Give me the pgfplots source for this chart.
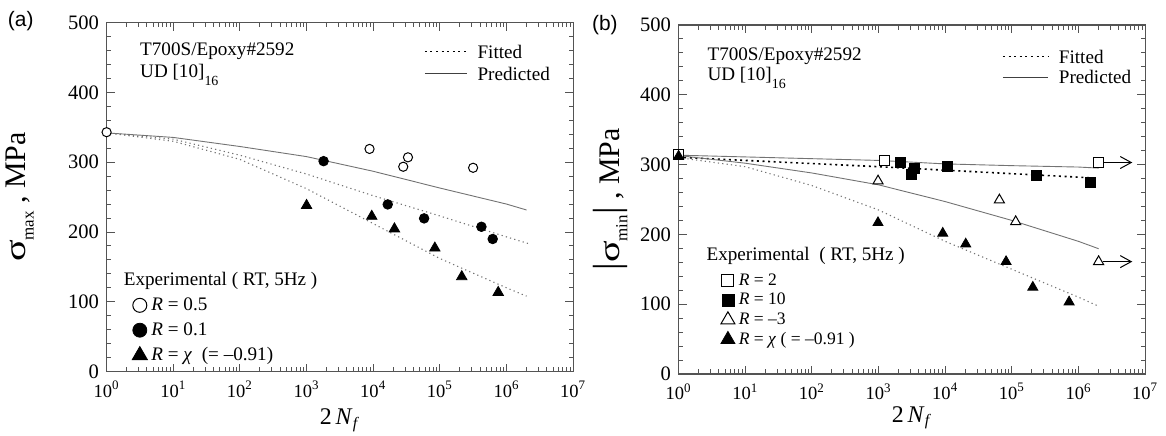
\documentclass[border=0pt]{standalone}
\usepackage{pgfplots}
\pgfplotsset{compat=1.18}
\usepackage{pgfplotstable}
\usepackage{fontspec}
\setmainfont{Liberation Serif}
\newfontfamily\panelfont{Liberation Sans}
\usetikzlibrary{arrows.meta}

% ---------- (a) maximum stress ----------
\pgfplotstableread{
x y
1 343
8800 319
28200 293.5
33200 307
315000 292
}\aRhalf
\pgfplotstableread{
x y
1800 301.5
16500 239.5
58000 219.5
420000 207.5
620000 190
}\aRtenth
\pgfplotstableread{
x y
1000 238
9500 222.5
20800 204.5
84000 177
213000 136
750000 113.5
}\aRchi
\pgfplotstableread{
x y
1 342
10 335.5
100 322.5
1000 308
10000 287
100000 263
1000000 240
2000000 231.5
}\aPred
\pgfplotstableread{
x y
1 342
10 333
100 310
1000 283
10000 252
100000 223
1000000 193
2200000 183
}\aFitTenth
\pgfplotstableread{
x y
1 342
10 330
100 304
1000 262
10000 212
100000 162
1000000 120
2000000 108
}\aFitChi

% ---------- (b) minimum stress ----------
\pgfplotstableread{
x y
1 314.5
1220 306
2000000 303
}\bRtwo
\pgfplotstableread{
x y
2120 303
3140 286
3440 295
10900 297
231000 285
1530000 275
}\bRten
\pgfplotstableread{
x y
982 276.5
64900 249.3
114000 218.2
2000000 161
}\bRmthree
\pgfplotstableread{
x y
1 312
980 216.8
9180 201.6
20300 186.2
81800 161
206000 124.2
722000 103.2
}\bRchi
\pgfplotstableread{
x y
1 313.5
10 311
100 308.5
1000 306
10000 301
100000 298.5
1000000 296.5
2000000 295
}\bPredTwo
\pgfplotstableread{
x y
1 310.5
10 306
100 301.5
1000 297
10000 292
100000 287
1000000 282
1500000 281
}\bFitTen
\pgfplotstableread{
x y
1 313
10 302
100 288
1000 271
10000 247
100000 220
1000000 190
2000000 179.5
}\bPredMthree
\pgfplotstableread{
x y
1 310
10 297
100 270
1000 235
10000 190
100000 150
1000000 110
1900000 98
}\bFitChi

\definecolor{framegray}{gray}{0.33}
\definecolor{curvegray}{gray}{0.45}

\tikzset{
  predline/.style={draw=curvegray, line width=0.45bp},
  fitline/.style={draw=curvegray, line width=0.55bp, dash pattern=on 0.6bp off 1.6bp},
  fitblackline/.style={draw=black, line width=0.8bp, dash pattern=on 1bp off 1.8bp},
}

\pgfplotsset{
  every axis/.append style={
    scale only axis, width=233.3bp, height=174.5bp,
    xmin=1, xmax=1e7, ymin=0, ymax=500,
    xtick={1,10,100,1000,10000,100000,1000000,10000000},
    minor xtick={2,3,4,5,6,7,8,9,
      20,30,40,50,60,70,80,90,
      200,300,400,500,600,700,800,900,
      2000,3000,4000,5000,6000,7000,8000,9000,
      20000,30000,40000,50000,60000,70000,80000,90000,
      200000,300000,400000,500000,600000,700000,800000,900000,
      2000000,3000000,4000000,5000000,6000000,7000000,8000000,9000000},
    xticklabels={10\textsuperscript{0},10\textsuperscript{1},10\textsuperscript{2},10\textsuperscript{3},10\textsuperscript{4},10\textsuperscript{5},10\textsuperscript{6},10\textsuperscript{7}},
    ytick={0,100,...,500}, minor y tick num=4,
    tick align=inside, major tick length=4bp, minor tick length=2.3bp,
    axis line style={draw=framegray, line width=0.6bp},
    tick style={draw=framegray, line width=0.5bp},
    /pgf/number format/assume math mode=true,
    xticklabel style={font=\fontsize{9.3}{10}\selectfont, yshift=-1.2bp},
    yticklabel style={font=\fontsize{10.3}{11}\selectfont, xshift=-0.3bp},
    clip=false,
    legend cell align=left,
    legend style={draw=none, fill=none, inner sep=0pt, row sep=0.6bp},
  },
}

\newcommand{\ttext}{\fontsize{9.6}{11}\selectfont}

\begin{document}
\begin{tikzpicture}
\path[use as bounding box] (0,0) rectangle (583bp,218bp);

% ================= panel (a) =================
\begin{semilogxaxis}[at={(53.3bp,32.2bp)}, anchor=south west,
  xlabel={\fontsize{12}{12}\selectfont 2\,\textit{N}\textsubscript{\textit{f}}},
  xlabel style={at={(axis description cs:0.5,-0.14)}, anchor=center},
  ylabel={{\fontsize{15}{15}\selectfont\scalebox{1.35}[1]{σ}}\raisebox{-0.9ex}{\fontsize{8.5}{8.5}\selectfont max}{\fontsize{15}{15}\selectfont\ , MPa}},
  ylabel style={at={(axis description cs:-0.186,0.5)}, anchor=center},
  legend style={at={(axis description cs:0.054,0.225)}, anchor=north west,
    font=\fontsize{9.6}{11}\selectfont},
]
\addplot[fitline, forget plot] table {\aFitTenth};
\addplot[fitline, forget plot] table {\aFitChi};
\addplot[predline, forget plot] table {\aPred};
\addplot[only marks, mark=*, mark size=2.3bp, mark options={draw=black, fill=white, line width=0.5bp}, forget plot] table {\aRhalf};
\addplot[only marks, mark=*, mark size=2.4bp, mark options={draw=black, fill=black}, forget plot] table {\aRtenth};
\addplot[only marks, mark=triangle*, mark size=3bp, mark options={draw=black, fill=black}, forget plot] table {\aRchi};

\addlegendimage{only marks, mark=*, mark size=3.5bp, mark options={draw=black, fill=white, line width=0.5bp}}
\addlegendentry{\textit{R} = 0.5}
\addlegendimage{only marks, mark=*, mark size=3.5bp, mark options={draw=black, fill=black}}
\addlegendentry{\textit{R} = 0.1}
\addlegendimage{only marks, mark=triangle*, mark size=4.4bp, mark options={draw=black, fill=black}}
\addlegendentry{\textit{R} = \textit{χ}\ \ (= –0.91)}

\node[anchor=center, font=\panelfont\fontsize{10.5}{12}\selectfont] at (axis description cs:-0.184,1.003) {(a)};
\node[anchor=west, font=\ttext] at (axis description cs:0.057,0.917) {T700S/Epoxy\#2592};
\node[anchor=west, font=\ttext] at (axis description cs:0.057,0.85) {UD [10]\raisebox{-0.9ex}{\fontsize{7}{7}\selectfont 16}};
\node[anchor=west, font=\ttext] at (axis description cs:0.022,0.26) {Experimental ( RT, 5Hz )};
\draw[fitblackline, line width=0.6bp] (axis description cs:0.682,0.917) -- (axis description cs:0.772,0.917);
\node[anchor=west, font=\ttext] at (axis description cs:0.78,0.917) {Fitted};
\draw[predline, draw=black!75] (axis description cs:0.682,0.853) -- (axis description cs:0.772,0.853);
\node[anchor=west, font=\ttext] at (axis description cs:0.78,0.853) {Predicted};
\end{semilogxaxis}

% ================= panel (b) =================
\begin{semilogxaxis}[at={(339.3bp,31bp)}, anchor=south west,
  xlabel={\fontsize{12}{12}\selectfont 2\,\textit{N}\textsubscript{\textit{f}}},
  xlabel style={at={(axis description cs:0.5,-0.125)}, anchor=center},
  ylabel={{\fontsize{19}{19}\selectfont |}{\fontsize{15}{15}\selectfont\scalebox{1.35}[1]{σ}}\raisebox{-0.9ex}{\fontsize{8.5}{8.5}\selectfont min}{\fontsize{19}{19}\selectfont |}{\fontsize{15}{15}\selectfont\ , MPa}},
  ylabel style={at={(axis description cs:-0.147,0.5)}, anchor=center},
  legend style={at={(axis description cs:0.09,0.3)}, anchor=north west,
    font=\fontsize{8.8}{10}\selectfont, row sep=-1.6bp},
]
\addplot[fitline, forget plot] table {\bFitChi};
\addplot[fitblackline, forget plot] table {\bFitTen};
\addplot[predline, forget plot] table {\bPredTwo};
\addplot[predline, forget plot] table {\bPredMthree};
% run-out arrows
\draw[black, line width=0.5bp, -{Straight Barb[length=5.5bp, width=6bp]}] (axis cs:2.35e6,303) -- (axis cs:6.4e6,303);
\draw[black, line width=0.5bp, -{Straight Barb[length=5.5bp, width=6bp]}] (axis cs:2.35e6,161) -- (axis cs:6.4e6,161);
\addplot[only marks, mark=square*, mark size=2.5bp, mark options={draw=black, fill=white, line width=0.5bp}, forget plot] table {\bRtwo};
\addplot[only marks, mark=square*, mark size=2.5bp, mark options={draw=black, fill=black}, forget plot] table {\bRten};
\addplot[only marks, mark=triangle*, mark size=2.9bp, mark options={draw=black, fill=white, line width=0.5bp}, forget plot] table {\bRmthree};
\addplot[only marks, mark=triangle*, mark size=2.9bp, mark options={draw=black, fill=black}, forget plot] table {\bRchi};

\addlegendimage{only marks, mark=square*, mark size=3bp, mark options={draw=black, fill=white, line width=0.5bp}}
\addlegendentry{\textit{R} = 2}
\addlegendimage{only marks, mark=square*, mark size=3bp, mark options={draw=black, fill=black}}
\addlegendentry{\textit{R} = 10}
\addlegendimage{only marks, mark=triangle*, mark size=4bp, mark options={draw=black, fill=white, line width=0.5bp}}
\addlegendentry{\textit{R} = –3}
\addlegendimage{only marks, mark=triangle*, mark size=4bp, mark options={draw=black, fill=black}}
\addlegendentry{\textit{R} = \textit{χ} ( = –0.91 )}

\node[anchor=center, font=\panelfont\fontsize{10.5}{12}\selectfont] at (axis description cs:-0.158,0.999) {(b)};
\node[anchor=west, font=\ttext] at (axis description cs:0.047,0.911) {T700S/Epoxy\#2592};
\node[anchor=west, font=\ttext] at (axis description cs:0.047,0.848) {UD [10]\raisebox{-0.9ex}{\fontsize{7}{7}\selectfont 16}};
\node[anchor=west, font=\ttext] at (axis description cs:0.045,0.338) {Experimental\ \ ( RT, 5Hz )};
\draw[fitblackline, line width=0.6bp] (axis description cs:0.695,0.909) -- (axis description cs:0.792,0.909);
\node[anchor=west, font=\ttext] at (axis description cs:0.8,0.909) {Fitted};
\draw[predline, draw=black!75] (axis description cs:0.695,0.85) -- (axis description cs:0.792,0.85);
\node[anchor=west, font=\ttext] at (axis description cs:0.8,0.85) {Predicted};
\end{semilogxaxis}
\end{tikzpicture}
\end{document}
